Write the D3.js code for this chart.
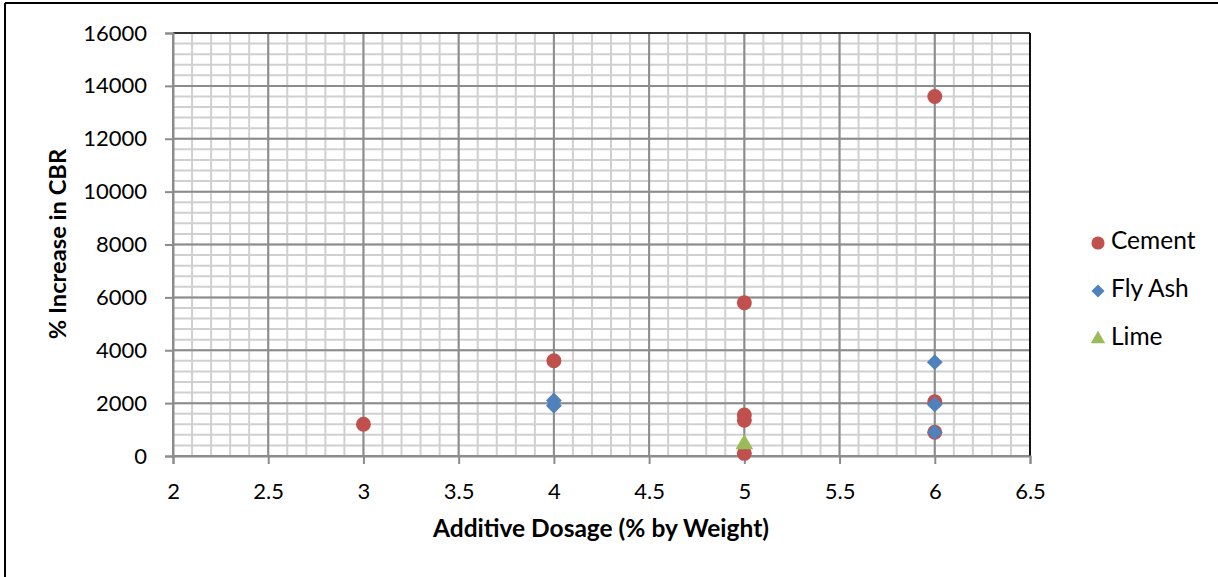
<!DOCTYPE html>
<html>
<head>
<meta charset="utf-8">
<script src="https://cdn.jsdelivr.net/npm/d3@7"></script>
<style>
  body { margin: 0; background: #fff; overflow: hidden; }
  svg { display: block; font-family: Lato, "Noto Sans", sans-serif; }
</style>
</head>
<body>
<svg id="chart" width="1218" height="577"></svg>
<script>
// data
const cementX = [3, 4, 5, 5, 5, 5, 6, 6, 6];
const cementY = [1200, 3600, 5800, 1550, 1350, 100, 13600, 2050, 900];
const flyAshX = [4, 4, 6, 6, 6];
const flyAshY = [2100, 1900, 3550, 1950, 900];
const limeX = [5];
const limeY = [450];
const xTicks = [2, 2.5, 3, 3.5, 4, 4.5, 5, 5.5, 6, 6.5];
const yTicks = [0, 2000, 4000, 6000, 8000, 10000, 12000, 14000, 16000];

const svg = d3.select('#chart');
const plotL = 173, plotR = 1030, plotT = 33, plotB = 456;

const x = d3.scaleLinear().domain([2, 6.5]).range([plotL, plotR]);
const y = d3.scaleLinear().domain([0, 16000]).range([plotB, plotT]);

// outer frame: only the top and left edges are in view
svg.append('line').attr('x1', 5).attr('x2', 1218).attr('y1', 3).attr('y2', 3)
  .attr('stroke', '#000').attr('stroke-width', 2);
svg.append('line').attr('x1', 5).attr('x2', 5).attr('y1', 3).attr('y2', 577)
  .attr('stroke', '#000').attr('stroke-width', 2);

// minor grid
const g = svg.append('g');
g.selectAll('.vminor').data(d3.range(2, 6.5, 0.1))
  .enter().append('line')
  .attr('x1', d => x(d)).attr('x2', d => x(d))
  .attr('y1', plotT).attr('y2', plotB)
  .attr('stroke', '#d0d0d0').attr('stroke-width', 2);
g.selectAll('.hminor').data(d3.range(0, 16000, 400))
  .enter().append('line')
  .attr('x1', plotL).attr('x2', plotR)
  .attr('y1', d => y(d)).attr('y2', d => y(d))
  .attr('stroke', '#d0d0d0').attr('stroke-width', 2);

// major grid
g.selectAll('.vmajor').data(xTicks)
  .enter().append('line')
  .attr('x1', d => x(d)).attr('x2', d => x(d))
  .attr('y1', plotT).attr('y2', plotB)
  .attr('stroke', '#8c8c8c').attr('stroke-width', 2);
g.selectAll('.hmajor').data(yTicks)
  .enter().append('line')
  .attr('x1', plotL).attr('x2', plotR)
  .attr('y1', d => y(d)).attr('y2', d => y(d))
  .attr('stroke', '#8c8c8c').attr('stroke-width', 2);

// top and right plot border
svg.append('line').attr('x1', plotL).attr('x2', plotR).attr('y1', plotT).attr('y2', plotT)
  .attr('stroke', '#333').attr('stroke-width', 2);
svg.append('line').attr('x1', plotR).attr('x2', plotR).attr('y1', plotT).attr('y2', plotB)
  .attr('stroke', '#111').attr('stroke-width', 2);

// axes
const xAxis = svg.append('g')
  .attr('transform', 'translate(0,' + plotB + ')')
  .call(d3.axisBottom(x).tickValues(xTicks).tickSize(8).tickPadding(19).tickFormat(d3.format('')));
const yAxis = svg.append('g')
  .attr('transform', 'translate(' + plotL + ',0)')
  .call(d3.axisLeft(y).tickValues(yTicks).tickSize(8).tickPadding(18).tickFormat(d3.format('')));
[xAxis, yAxis].forEach(a => {
  a.select('.domain').attr('stroke', '#8c8c8c').attr('stroke-width', 2);
  a.selectAll('.tick line').attr('stroke', '#8c8c8c').attr('stroke-width', 2);
  a.selectAll('.tick text').attr('fill', '#000')
    .style('font-family', 'Lato, sans-serif').style('font-size', '22px');
});
xAxis.selectAll('.tick text').attr('dy', '0.71em');

// axis titles
svg.append('text')
  .attr('x', 601).attr('y', 531)
  .attr('text-anchor', 'middle').attr('dominant-baseline', 'middle')
  .style('font-size', '24.5px').style('font-weight', 'bold')
  .text('Additive Dosage (% by Weight)');
svg.append('text')
  .attr('transform', 'translate(60,244) rotate(-90)')
  .attr('text-anchor', 'middle').attr('dominant-baseline', 'middle')
  .style('font-size', '23.7px').style('font-weight', 'bold')
  .text('% Increase in CBR');

// markers
const circle = d3.symbol().type(d3.symbolCircle).size(175);
const diamond = d3.symbol().type(d3.symbolSquare).size(125);
const triangle = d3.symbol().type(d3.symbolTriangle).size(135);

function drawSeries (xs, ys, sym, color, rot) {
  svg.append('g').selectAll('path')
    .data(xs.map((d, i) => [d, ys[i]]))
    .enter().append('path')
    .attr('d', sym)
    .attr('fill', color)
    .attr('transform', d => 'translate(' + x(d[0]) + ',' + y(d[1]) + ') rotate(' + rot + ')');
}
drawSeries(cementX, cementY, circle, '#c0504d', 0);
drawSeries(flyAshX, flyAshY, diamond, '#4f81bd', 45);
drawSeries(limeX, limeY, triangle, '#9bbb59', 0);

// legend
const legendItems = [
  { name: 'Cement', sym: d3.symbol().type(d3.symbolCircle).size(135), color: '#c0504d', rot: 0 },
  { name: 'Fly Ash', sym: d3.symbol().type(d3.symbolSquare).size(85), color: '#4f81bd', rot: 45 },
  { name: 'Lime', sym: d3.symbol().type(d3.symbolTriangle).size(90), color: '#9bbb59', rot: 0 }
];
const legend = svg.append('g');
legendItems.forEach((it, i) => {
  const ly = 243 + i * 48;
  legend.append('path').attr('d', it.sym).attr('fill', it.color)
    .attr('transform', 'translate(1098,' + ly + ') rotate(' + it.rot + ')');
  legend.append('text').attr('x', 1111).attr('y', ly)
    .attr('dominant-baseline', 'middle')
    .style('font-size', '24.5px')
    .text(it.name);
});
</script>
</body>
</html>
